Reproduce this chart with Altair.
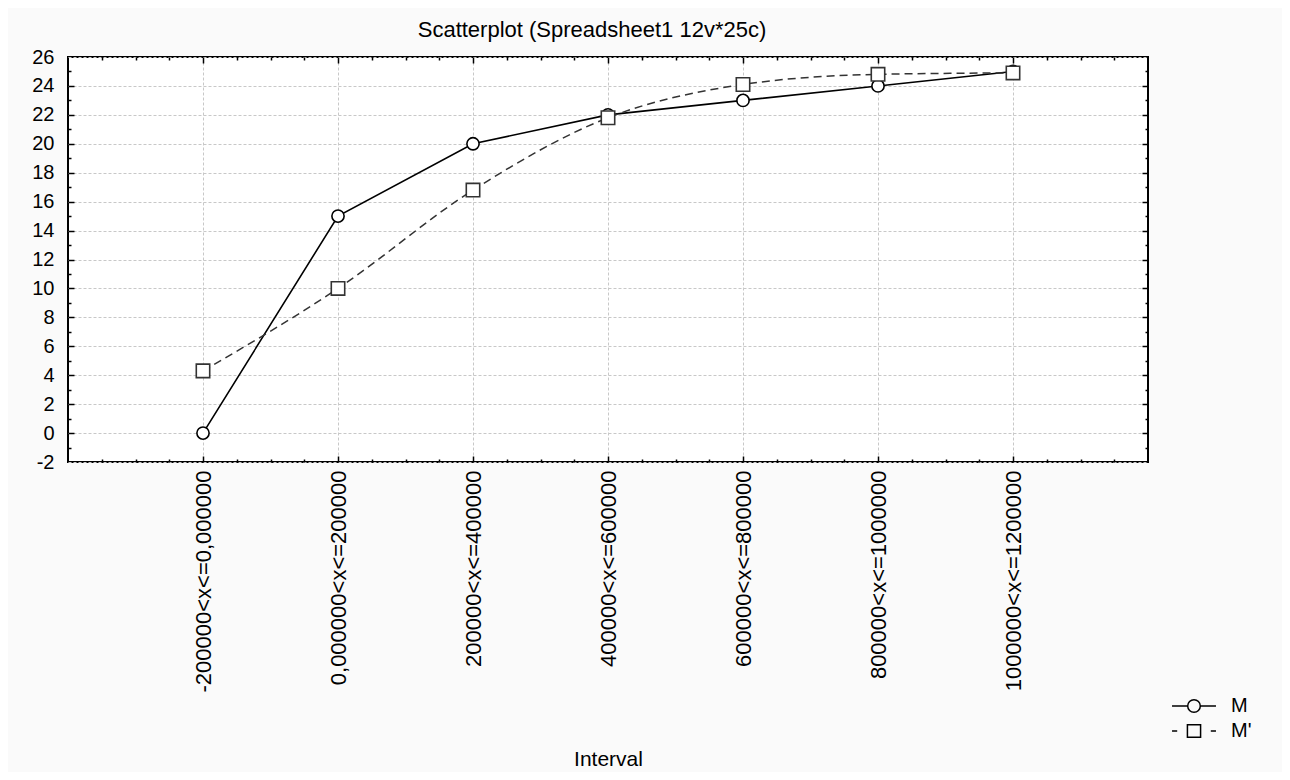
import json
import altair as alt
import pandas as pd

categories = [
    "-200000<x<=0,000000",
    "0,000000<x<=200000",
    "200000<x<=400000",
    "400000<x<=600000",
    "600000<x<=800000",
    "800000<x<=1000000",
    "1000000<x<=1200000",
]
m_values = [0, 15, 20, 22, 23, 24, 25]
mp_values = [4.3, 10, 16.8, 21.8, 24.1, 24.8, 24.9]
series_names = ["M", "M'"]

rows = []
for i, c in enumerate(categories):
    rows.append({"pos": i + 1, "cat": c, "series": "M", "value": m_values[i]})
for i, c in enumerate(categories):
    rows.append({"pos": i + 1, "cat": c, "series": "M'", "value": mp_values[i]})
df = pd.DataFrame(rows)

FONT = "Liberation Sans, Arial, sans-serif"
label_expr = json.dumps(categories) + "[datum.value - 1]"

x_scale = alt.Scale(domain=[0, 8], nice=False, zero=False)
y_scale = alt.Scale(domain=[-2, 26], nice=False, zero=False)

x_major = list(range(1, 8))
x_minor = [i / 4 for i in range(1, 32) if i % 4 != 0]
y_major = list(range(0, 26, 2))
y_minor = list(range(-1, 26, 2))


def xenc(axis):
    return alt.X("pos:Q", scale=x_scale, axis=axis)


def yenc(axis):
    return alt.Y("value:Q", scale=y_scale, axis=axis)


def tick_axis(orient, values, size):
    return alt.Axis(orient=orient, values=values, offset=-size, tickSize=size,
                    tickColor="black", tickWidth=1.5, ticks=True, labels=False,
                    domain=False, grid=False, title=None)


ax_x_main = alt.Axis(
    orient="bottom", values=x_major, labelExpr=label_expr, labelAngle=270,
    labelAlign="right", labelBaseline="middle", labelFontSize=22, labelFont=FONT,
    labelColor="black", labelPadding=8, labelOverlap=False, labelFlush=False,
    labelBound=False, labelLimit=400, ticks=False, domain=False, grid=True,
    gridColor="#c8c8c8", gridDash=[3, 2], gridWidth=1,
    title="Interval", titleFont=FONT, titleFontSize=21, titleFontWeight="normal",
    titleColor="black", titleY=303, titleBaseline="alphabetic",
)
ax_y_main = alt.Axis(
    orient="left", values=list(range(-2, 27, 2)), labelExpr="'' + datum.value",
    labelFontSize=20, labelFont=FONT,
    labelColor="black", labelPadding=14, labelOverlap=False, labelFlush=False,
    ticks=False, domain=False, grid=True, gridColor="#c8c8c8", gridDash=[3, 2],
    gridWidth=1, title=None,
)

path_m = ("M-1.57,0L-0.45,0M0.45,0L1.57,0"
          "M-0.45,0A0.45,0.45 0 1,0 0.45,0A0.45,0.45 0 1,0 -0.45,0Z")
path_mp = ("M-1.57,0L-1.2,0M1.2,0L1.57,0"
           "M-0.47,-0.45L0.47,-0.45L0.47,0.45L-0.47,0.45Z")

sel_m = alt.FieldEqualPredicate(field="series", equal="M")
sel_mp = alt.FieldEqualPredicate(field="series", equal="M'")

base = alt.Chart(df)

line_m = base.transform_filter(sel_m).mark_line(
    color="black", strokeWidth=1.6
).encode(x=xenc(ax_x_main), y=yenc(ax_y_main))

line_mp = base.transform_filter(sel_mp).mark_line(
    color="#333333", strokeWidth=1.5, strokeDash=[8, 5], interpolate="monotone"
).encode(x=xenc(tick_axis("bottom", x_major, 6)), y=yenc(tick_axis("left", y_major, 6)))

pts_m = base.transform_filter(sel_m).mark_point(
    shape="circle", size=150, fill="white", stroke="black", strokeWidth=1.6,
    opacity=1, fillOpacity=1
).encode(x=xenc(tick_axis("bottom", x_minor, 3)), y=yenc(tick_axis("left", y_minor, 3)))

pts_mp = base.transform_filter(sel_mp).mark_point(
    shape="square", size=180, fill="white", stroke="#333333", strokeWidth=1.6,
    opacity=1, fillOpacity=1
).encode(x=xenc(tick_axis("top", x_major, 6)), y=yenc(tick_axis("right", y_major, 6)))

legend_layer = base.mark_point(opacity=0).encode(
    x=xenc(tick_axis("top", x_minor, 3)),
    y=yenc(tick_axis("right", y_minor, 3)),
    shape=alt.Shape(
        "series:N",
        scale=alt.Scale(domain=series_names, range=[path_m, path_mp]),
        legend=alt.Legend(
            orient="none", legendX=1111, legendY=634, title=None,
            symbolSize=784, symbolOpacity=1, symbolFillColor="white",
            symbolStrokeColor="black", symbolStrokeWidth=1.5,
            labelFontSize=20, labelFont=FONT, labelColor="black",
            labelOffset=22, rowPadding=0, padding=0,
        ),
    ),
)

chart = alt.layer(line_m, line_mp, pts_m, pts_mp, legend_layer).resolve_axis(
    x="independent", y="independent"
).properties(
    width=1080,
    height=405,
    autosize=alt.AutoSizeParams(type="none"),
    padding={"left": 60, "top": 49, "right": 134, "bottom": 310},
    title=alt.TitleParams(
        "Scatterplot (Spreadsheet1 12v*25c)", font=FONT, fontSize=22,
        fontWeight="normal", color="black", anchor="middle", offset=5, dx=-16,
    ),
).configure(background="#fafafa").configure_view(
    stroke="black", strokeWidth=2, fill="white"
)

chart.save("out.html", embed_options={"renderer": "svg", "actions": False})
